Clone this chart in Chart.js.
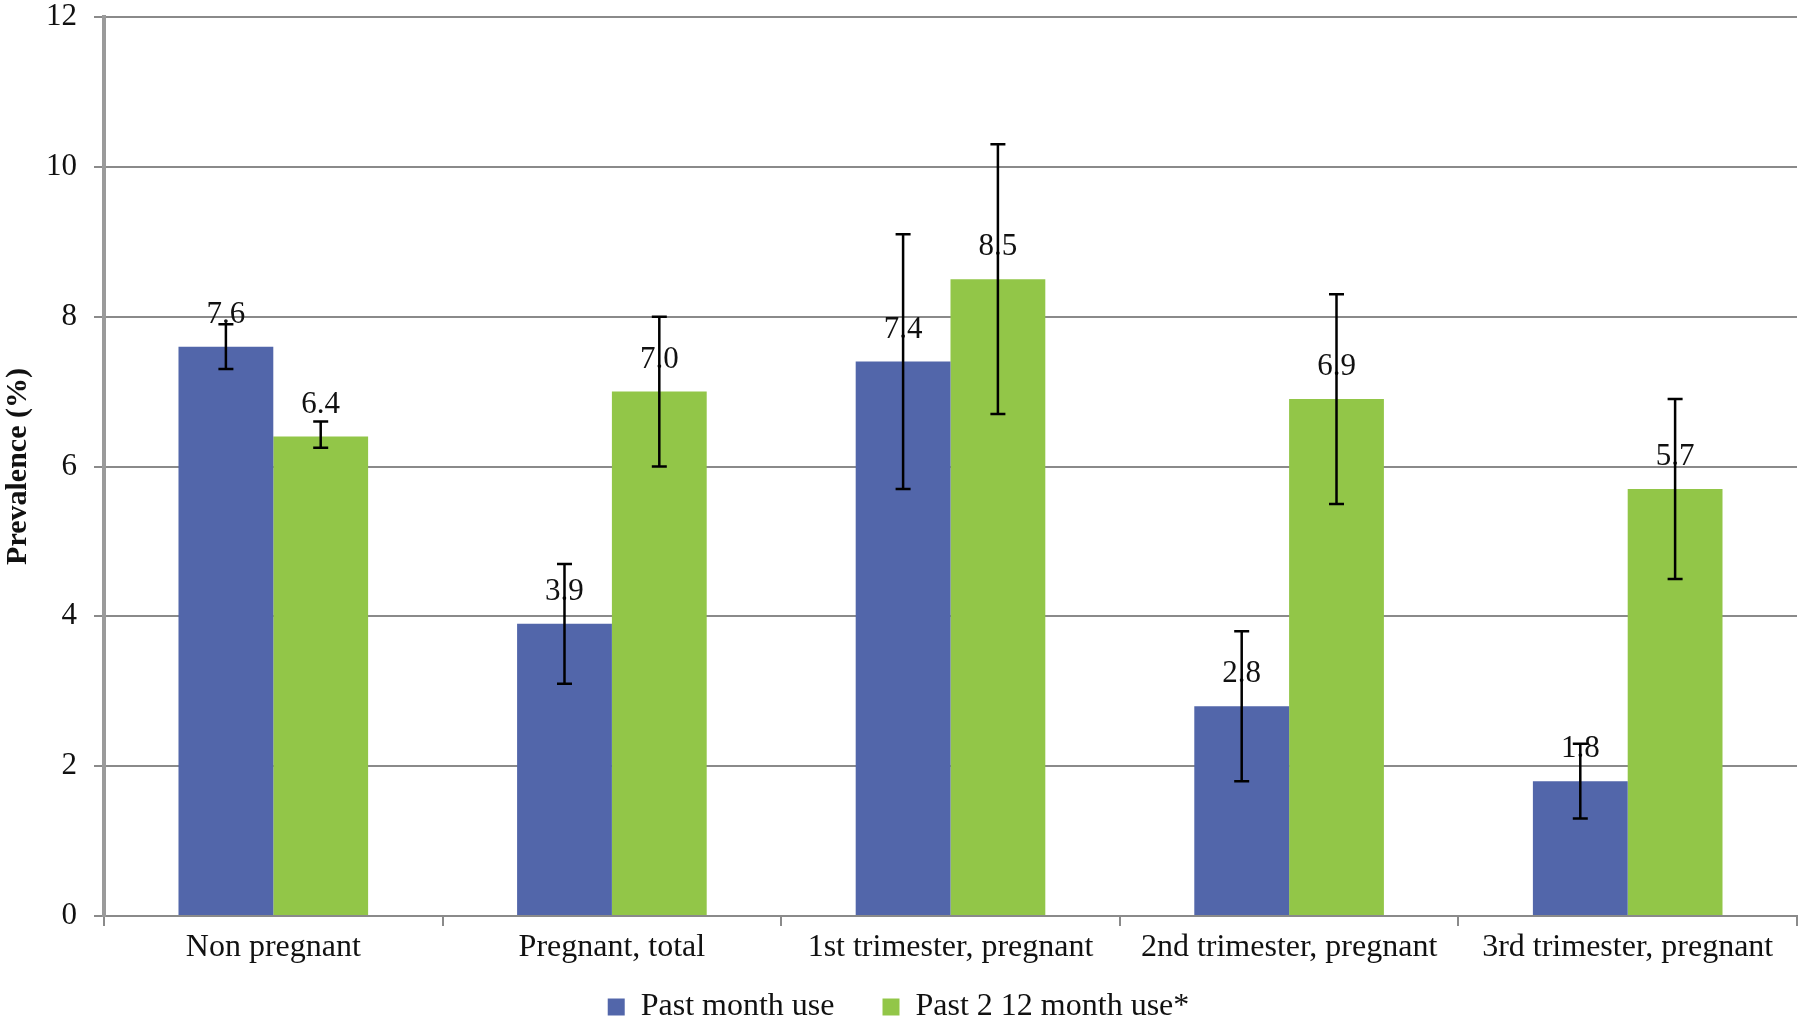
<!DOCTYPE html>
<html>
<head>
<meta charset="utf-8">
<script src="https://cdn.jsdelivr.net/npm/chart.js@4.4.1/dist/chart.umd.min.js"></script>
<style>
  html, body { margin: 0; padding: 0; background: #fff; }
  #wrap { width: 1800px; height: 1021px; position: relative; }
</style>
</head>
<body>
<div id="wrap"><canvas id="chart"></canvas></div>
<script>
'use strict';

// --- data ---
const categories = ['Non pregnant', 'Pregnant, total', '1st trimester, pregnant', '2nd trimester, pregnant', '3rd trimester, pregnant'];
const seriesNames = ['Past month use', 'Past 2 12 month use*'];

const pastMonth = [7.6, 3.9, 7.4, 2.8, 1.8];
const pastMonthLow = [7.3, 3.1, 5.7, 1.8, 1.3];
const pastMonthHigh = [7.9, 4.7, 9.1, 3.8, 2.3];

const past212 = [6.4, 7.0, 8.5, 6.9, 5.7];
const past212Low = [6.25, 6.0, 6.7, 5.5, 4.5];
const past212High = [6.6, 8.0, 10.3, 8.3, 6.9];

const yTicks = [0, 2, 4, 6, 8, 10, 12];

const SERIF = '"Liberation Serif", "Times New Roman", serif';
const GRID = '#8a8a8a';

// value labels over the bars, then error bars on top of them
const barExtras = {
    id: 'barExtras',
    afterLayout(chart) {
        // x labels hang below the (squeezed) x scale box; don't clip them
        chart.scales.x.bottom = chart.height;
    },
    afterDatasetsDraw(chart) {
        const ctx = chart.ctx;
        const yScale = chart.scales.y;
        chart.data.datasets.forEach((ds, i) => {
            const meta = chart.getDatasetMeta(i);
            meta.data.forEach((bar, j) => {
                ctx.save();
                ctx.font = '31px ' + SERIF;
                ctx.fillStyle = '#111';
                ctx.textAlign = 'center';
                ctx.textBaseline = 'middle';
                ctx.fillText(ds.data[j].toFixed(1), bar.x, bar.y - 32);
                ctx.restore();
            });
        });
        chart.data.datasets.forEach((ds, i) => {
            const meta = chart.getDatasetMeta(i);
            meta.data.forEach((bar, j) => {
                const yHi = yScale.getPixelForValue(ds.errHigh[j]);
                const yLo = yScale.getPixelForValue(ds.errLow[j]);
                const cap = 7.5;
                ctx.save();
                ctx.strokeStyle = '#000';
                ctx.lineWidth = 2.5;
                ctx.beginPath();
                ctx.moveTo(bar.x, yHi);
                ctx.lineTo(bar.x, yLo);
                ctx.moveTo(bar.x - cap, yHi);
                ctx.lineTo(bar.x + cap, yHi);
                ctx.moveTo(bar.x - cap, yLo);
                ctx.lineTo(bar.x + cap, yLo);
                ctx.stroke();
                ctx.restore();
            });
        });
    }
};

new Chart(document.getElementById('chart'), {
    type: 'bar',
    data: {
        labels: categories,
        datasets: [
            {
                label: seriesNames[0],
                data: pastMonth,
                errLow: pastMonthLow,
                errHigh: pastMonthHigh,
                backgroundColor: '#5266aa',
                borderWidth: 0,
                categoryPercentage: 0.56,
                barPercentage: 1.0
            },
            {
                label: seriesNames[1],
                data: past212,
                errLow: past212Low,
                errHigh: past212High,
                backgroundColor: '#92c648',
                borderWidth: 0,
                categoryPercentage: 0.56,
                barPercentage: 1.0
            }
        ]
    },
    options: {
        responsive: true,
        maintainAspectRatio: false,
        animation: false,
        layout: { padding: { top: 0, right: 3, left: 0, bottom: 0 } },
        plugins: {
            legend: {
                position: 'bottom',
                maxHeight: 78,
                labels: {
                    color: '#111',
                    font: { family: SERIF, size: 32 },
                    boxWidth: 17,
                    boxHeight: 17,
                    padding: 48
                }
            },
            tooltip: { enabled: false }
        },
        scales: {
            x: {
                afterFit: scale => {
                    scale.height = 27;
                },
                grid: {
                    display: true,
                    drawOnChartArea: false,
                    drawTicks: true,
                    tickLength: 10,
                    color: GRID,
                    lineWidth: 2
                },
                border: { display: true, color: GRID, width: 2 },
                ticks: {
                    color: '#111',
                    font: { family: SERIF, size: 32 },
                    padding: 2,
                    maxRotation: 0,
                    autoSkip: false
                }
            },
            y: {
                min: 0,
                max: 12,
                afterBuildTicks: scale => {
                    scale.ticks = yTicks.map(v => ({ value: v }));
                },
                afterFit: scale => {
                    scale.width = 104;
                    scale.paddingTop = 17;
                    scale.paddingBottom = 0;
                },
                grid: {
                    color: GRID,
                    lineWidth: 2,
                    tickLength: 10
                },
                border: { display: true, color: '#9a9a9a', width: 4 },
                ticks: {
                    color: '#111',
                    font: { family: SERIF, size: 31 },
                    padding: 17
                },
                title: {
                    display: true,
                    text: 'Prevalence (%)',
                    color: '#111',
                    font: { family: SERIF, size: 30, weight: 'bold' },
                    padding: { top: 0, bottom: 0 }
                }
            }
        }
    },
    plugins: [barExtras]
});
</script>
</body>
</html>
